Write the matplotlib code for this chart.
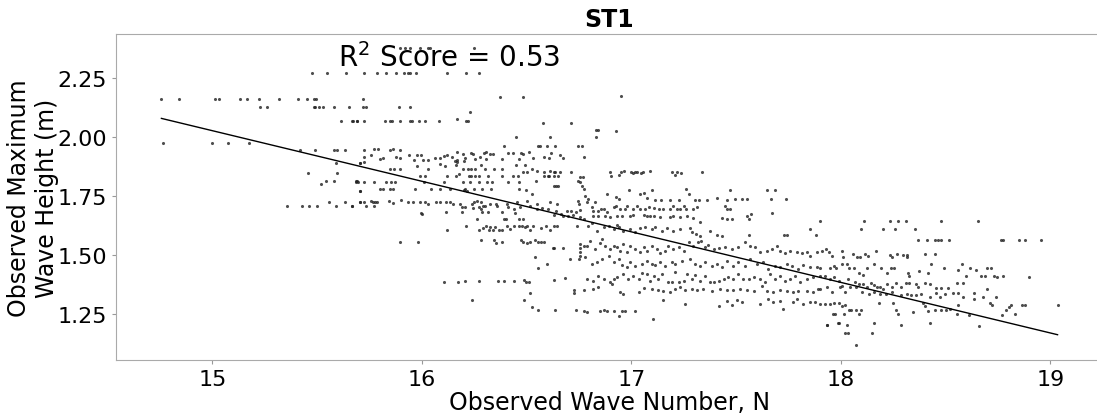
import numpy as np
import matplotlib.pyplot as plt

# (observed wave number N, observed max wave height Hmax) pairs, grouped by area of the plot
pts_west = [
    (15.477, 2.273), (15.549, 2.273), (15.639, 2.273),
    (14.757, 2.160), (14.841, 2.160), (15.013, 2.160), (15.030, 2.160), (15.132, 2.160), (15.167, 2.160),
    (15.224, 2.160), (15.318, 2.160), (15.411, 2.160), (15.451, 2.160), (15.486, 2.160), (15.495, 2.160),
    (15.228, 2.128), (15.259, 2.128), (15.483, 2.128), (15.491, 2.128), (15.510, 2.128), (15.526, 2.128),
    (15.582, 2.128), (15.650, 2.128),
    (15.615, 2.066), (15.669, 2.066), (15.690, 2.066),
    (14.765, 1.973), (14.997, 1.973), (15.075, 1.973), (15.175, 1.973),
    (15.420, 1.946), (15.490, 1.946), (15.582, 1.946), (15.595, 1.946), (15.631, 1.946),
    (15.588, 1.888), (15.706, 1.888), (15.455, 1.847), (15.595, 1.847),
    (15.541, 1.812), (15.579, 1.812), (15.684, 1.812), (15.692, 1.812), (15.521, 1.799), (15.705, 1.770),
    (15.558, 1.722), (15.631, 1.722), (15.703, 1.722),
    (15.356, 1.708), (15.426, 1.708), (15.459, 1.708), (15.498, 1.708), (15.588, 1.708), (15.667, 1.708),
]

pts_upper = [
    (15.894, 2.378), (15.921, 2.378), (15.942, 2.378), (15.992, 2.378), (16.029, 2.378), (16.040, 2.378), (16.250, 2.378),
    (15.725, 2.273), (15.786, 2.273), (15.830, 2.273), (15.878, 2.273), (15.916, 2.273), (15.932, 2.273),
    (15.942, 2.273), (15.972, 2.273), (16.120, 2.273), (16.212, 2.273), (16.272, 2.273),
    (16.372, 2.169), (16.484, 2.169), (16.951, 2.174), (15.717, 2.160),
    (15.717, 2.128), (15.733, 2.128), (15.892, 2.128), (15.945, 2.128),
    (16.228, 2.104), (16.170, 2.076),
    (15.666, 2.066), (15.690, 2.066), (15.725, 2.066), (15.825, 2.066), (15.846, 2.066), (15.857, 2.066),
    (15.894, 2.066), (15.945, 2.066), (15.953, 2.066), (15.984, 2.066), (16.016, 2.066), (16.083, 2.066),
    (16.212, 2.066), (16.218, 2.066), (16.576, 2.058), (16.710, 2.058),
    (16.831, 2.029), (16.843, 2.029), (16.831, 1.998), (16.449, 1.998), (16.613, 1.998),
    (16.390, 1.963), (16.554, 1.963), (16.565, 1.963), (16.597, 1.963), (16.637, 1.963), (16.745, 1.963), (16.764, 1.963),
    (15.722, 1.946), (15.770, 1.949), (15.792, 1.949), (15.846, 1.946), (15.862, 1.949), (15.897, 1.946),
    (16.170, 1.935), (16.194, 1.928), (16.234, 1.932), (16.242, 1.928), (16.298, 1.932), (16.307, 1.935),
    (16.323, 1.928), (16.339, 1.928), (16.409, 1.932), (16.434, 1.932), (16.473, 1.932), (16.485, 1.926),
    (16.511, 1.935), (16.617, 1.932), (16.657, 1.923),
    (15.725, 1.913), (15.759, 1.923), (15.802, 1.906), (15.813, 1.909), (15.878, 1.913), (15.897, 1.909),
    (15.940, 1.923), (15.976, 1.923), (15.996, 1.923), (15.961, 1.903), (16.005, 1.903), (16.027, 1.903),
    (16.064, 1.909), (16.088, 1.909), (16.104, 1.920), (16.120, 1.923), (16.144, 1.915), (16.159, 1.899),
    (16.167, 1.903), (16.199, 1.899), (16.207, 1.909), (16.255, 1.906), (16.279, 1.913), (16.304, 1.906),
    (16.382, 1.906), (16.462, 1.906), (16.530, 1.912), (16.581, 1.913), (16.609, 1.912), (16.676, 1.912), (16.772, 1.913),
    (15.703, 1.888), (15.725, 1.892), (15.849, 1.864), (15.867, 1.864), (15.897, 1.864), (15.976, 1.875),
    (16.027, 1.864), (16.088, 1.885), (16.112, 1.875), (16.164, 1.881), (16.167, 1.892), (16.194, 1.864),
    (16.218, 1.864), (16.234, 1.864), (16.255, 1.864), (16.282, 1.881), (16.302, 1.864), (16.345, 1.864),
    (16.382, 1.864), (16.449, 1.881), (16.493, 1.881), (16.525, 1.864), (16.549, 1.857), (16.581, 1.852),
    (16.613, 1.857), (16.629, 1.852), (16.636, 1.850), (16.660, 1.852), (16.713, 1.850),
    (15.989, 1.835), (16.016, 1.835), (16.120, 1.835), (16.161, 1.835), (16.175, 1.843), (16.223, 1.835),
    (16.234, 1.835), (16.255, 1.835), (16.271, 1.835), (16.318, 1.835), (16.384, 1.835), (16.434, 1.835),
    (16.460, 1.835), (16.485, 1.850), (16.501, 1.852), (16.584, 1.835), (16.600, 1.835), (16.609, 1.835),
    (16.629, 1.835), (16.652, 1.835),
]

pts_mid = [
    (15.687, 1.810), (15.697, 1.810), (15.722, 1.810), (15.770, 1.810), (15.830, 1.810), (15.852, 1.810),
    (15.870, 1.810), (16.010, 1.810), (16.104, 1.810), (16.196, 1.810), (16.228, 1.810), (16.271, 1.810),
    (16.309, 1.810), (16.337, 1.810), (16.411, 1.807), (16.462, 1.810), (16.544, 1.813), (16.743, 1.813),
    (15.706, 1.770), (15.798, 1.779), (15.814, 1.779), (15.849, 1.779), (15.860, 1.779), (15.968, 1.779),
    (16.043, 1.779), (16.085, 1.779), (16.136, 1.779), (16.199, 1.776), (16.207, 1.779), (16.215, 1.772),
    (16.247, 1.779), (16.285, 1.779), (16.330, 1.779), (16.462, 1.779), (16.497, 1.773), (16.528, 1.756),
    (16.632, 1.790), (16.641, 1.793), (16.652, 1.793),
    (15.668, 1.708), (15.706, 1.722), (15.722, 1.722), (15.732, 1.708), (15.757, 1.728), (15.767, 1.722),
    (15.773, 1.708), (15.778, 1.722), (15.786, 1.722), (15.841, 1.728), (15.864, 1.719), (15.900, 1.731),
    (15.932, 1.722), (15.959, 1.722), (15.991, 1.722), (16.015, 1.722), (16.027, 1.717), (16.067, 1.722),
    (16.085, 1.722), (16.115, 1.725), (16.132, 1.722), (16.151, 1.717), (16.182, 1.714), (16.239, 1.717),
    (16.250, 1.722), (16.263, 1.728), (16.282, 1.722), (16.323, 1.717), (16.353, 1.717), (16.406, 1.717),
    (16.454, 1.722), (16.501, 1.728), (16.551, 1.717), (16.613, 1.722), (16.644, 1.717), (16.745, 1.728),
    (16.749, 1.717),
    (15.996, 1.677), (16.002, 1.671), (16.115, 1.680), (16.190, 1.701), (16.193, 1.683), (16.207, 1.701),
    (16.244, 1.697), (16.271, 1.701), (16.282, 1.694), (16.291, 1.705), (16.287, 1.680), (16.301, 1.708),
    (16.314, 1.683), (16.358, 1.705), (16.382, 1.683), (16.412, 1.703), (16.438, 1.694), (16.444, 1.678),
    (16.469, 1.703), (16.517, 1.705), (16.549, 1.694), (16.574, 1.697), (16.600, 1.694), (16.632, 1.669),
    (16.641, 1.686), (16.663, 1.674), (16.676, 1.663), (16.692, 1.686), (16.698, 1.666), (16.711, 1.686),
    (16.721, 1.669), (16.737, 1.680), (16.756, 1.688),
    (16.120, 1.603), (16.212, 1.623), (16.263, 1.651), (16.271, 1.603), (16.293, 1.615), (16.306, 1.620),
    (16.320, 1.603), (16.326, 1.617), (16.339, 1.603), (16.350, 1.617), (16.366, 1.603), (16.382, 1.603),
    (16.393, 1.651), (16.403, 1.651), (16.406, 1.620), (16.419, 1.609), (16.438, 1.620), (16.462, 1.651),
    (16.466, 1.623), (16.477, 1.620), (16.485, 1.651), (16.493, 1.617), (16.504, 1.620), (16.517, 1.603),
    (16.530, 1.623), (16.568, 1.615), (16.594, 1.620), (16.613, 1.603), (16.629, 1.623), (16.644, 1.623),
    (16.740, 1.623),
    (15.894, 1.552), (15.980, 1.552), (16.283, 1.561), (16.345, 1.561), (16.355, 1.550), (16.382, 1.552),
    (16.473, 1.561), (16.485, 1.552), (16.501, 1.550), (16.517, 1.552), (16.541, 1.561), (16.552, 1.555),
    (16.568, 1.552), (16.584, 1.552), (16.624, 1.527), (16.632, 1.527), (16.676, 1.527), (16.756, 1.527),
    (16.756, 1.510), (16.541, 1.490),
    (16.708, 1.482), (16.748, 1.482), (16.597, 1.462), (16.554, 1.445),
    (16.684, 1.402), (16.633, 1.394),
    (16.104, 1.385), (16.171, 1.385), (16.205, 1.390), (16.271, 1.390), (16.363, 1.390), (16.390, 1.390),
    (16.438, 1.390), (16.489, 1.394), (16.498, 1.385), (16.509, 1.385), (16.727, 1.351), (16.727, 1.337),
    (16.517, 1.337),
    (16.489, 1.309), (16.237, 1.309), (16.528, 1.278), (16.552, 1.264), (16.636, 1.264), (16.735, 1.264),
]

pts_centre = [
    (16.927, 2.025),
    (16.896, 1.852), (16.902, 1.833), (16.939, 1.838), (16.950, 1.852), (16.966, 1.855), (16.997, 1.852),
    (17.007, 1.847), (17.018, 1.852), (17.029, 1.850), (17.045, 1.847), (17.055, 1.852), (17.090, 1.857),
    (17.193, 1.850), (17.209, 1.838), (17.220, 1.850), (17.236, 1.847), (17.336, 1.852),
    (16.756, 1.829), (16.768, 1.829), (16.756, 1.807), (16.764, 1.790), (16.772, 1.779), (16.780, 1.751),
    (16.795, 1.737), (16.788, 1.722), (16.827, 1.722),
    (16.991, 1.773), (17.098, 1.773), (17.261, 1.779), (17.273, 1.758), (17.471, 1.773), (17.646, 1.773), (17.686, 1.773),
    (16.886, 1.758), (16.927, 1.744), (16.943, 1.737), (17.042, 1.758), (17.058, 1.762), (17.074, 1.740),
    (17.113, 1.734), (17.141, 1.734), (17.185, 1.734), (17.225, 1.734), (17.304, 1.734), (17.325, 1.734),
    (17.360, 1.734), (17.411, 1.740), (17.455, 1.734), (17.495, 1.737), (17.527, 1.737), (17.554, 1.737),
    (17.665, 1.737), (17.739, 1.737), (17.670, 1.677),
    (16.811, 1.701), (16.819, 1.687), (16.843, 1.687), (16.854, 1.694), (16.870, 1.694), (16.883, 1.680),
    (16.915, 1.701), (16.927, 1.708), (16.947, 1.694), (16.970, 1.694), (16.978, 1.708), (17.010, 1.694),
    (17.026, 1.708), (17.042, 1.694), (17.067, 1.694), (17.082, 1.701), (17.109, 1.697), (17.134, 1.694),
    (17.153, 1.694), (17.185, 1.694), (17.201, 1.705), (17.220, 1.694), (17.233, 1.694), (17.249, 1.705),
    (17.261, 1.694), (17.296, 1.694), (17.312, 1.701), (17.447, 1.705), (17.455, 1.694), (17.471, 1.694),
    (16.816, 1.666), (16.843, 1.663), (16.875, 1.666), (16.899, 1.659), (16.931, 1.666), (16.954, 1.663),
    (16.994, 1.663), (17.010, 1.669), (17.058, 1.669), (17.074, 1.663), (17.090, 1.666), (17.106, 1.666),
    (17.137, 1.659), (17.185, 1.659), (17.201, 1.663), (17.233, 1.659), (17.265, 1.666), (17.296, 1.654),
    (17.328, 1.637), (17.432, 1.654), (17.455, 1.651), (17.479, 1.651), (17.551, 1.663), (17.570, 1.673),
    (17.559, 1.651), (17.901, 1.643),
    (16.756, 1.659), (16.772, 1.651), (16.795, 1.623), (16.811, 1.635), (16.835, 1.602), (16.867, 1.616),
    (16.891, 1.623), (16.915, 1.609), (16.931, 1.626), (16.943, 1.616), (16.962, 1.602), (16.994, 1.609),
    (17.018, 1.595), (17.042, 1.612), (17.066, 1.616), (17.098, 1.609), (17.113, 1.616), (17.145, 1.602),
    (17.169, 1.612), (17.201, 1.602), (17.230, 1.609), (17.281, 1.612), (17.288, 1.595), (17.309, 1.588),
    (17.328, 1.581), (17.376, 1.602), (17.408, 1.584), (17.432, 1.578), (17.559, 1.584), (17.729, 1.584),
    (17.742, 1.584), (17.853, 1.609), (17.882, 1.584),
    (16.756, 1.545), (16.772, 1.538), (16.788, 1.538), (16.803, 1.559), (16.827, 1.524), (16.851, 1.550),
    (16.859, 1.567), (16.875, 1.538), (16.899, 1.524), (16.915, 1.538), (16.931, 1.531), (16.947, 1.517),
    (16.962, 1.545), (16.978, 1.513), (16.994, 1.538), (17.018, 1.524), (17.042, 1.510), (17.058, 1.531),
    (17.074, 1.517), (17.098, 1.538), (17.121, 1.524), (17.137, 1.507), (17.161, 1.517), (17.177, 1.538),
    (17.201, 1.524), (17.225, 1.531), (17.249, 1.517), (17.273, 1.552), (17.296, 1.538), (17.320, 1.552),
    (17.331, 1.559), (17.352, 1.531), (17.368, 1.541), (17.392, 1.524), (17.416, 1.527), (17.447, 1.531),
    (17.479, 1.524), (17.511, 1.531), (17.543, 1.552), (17.567, 1.538), (17.591, 1.531), (17.614, 1.510),
    (17.646, 1.517), (17.670, 1.524), (17.694, 1.538), (17.710, 1.517), (17.734, 1.507), (17.758, 1.517),
    (17.789, 1.510), (17.813, 1.507), (17.837, 1.510), (17.853, 1.496), (17.888, 1.510),
    (16.756, 1.496), (16.780, 1.489), (16.811, 1.460), (16.835, 1.467), (16.859, 1.482), (16.891, 1.496),
    (16.915, 1.467), (16.939, 1.482), (16.954, 1.456), (16.978, 1.446), (16.994, 1.467), (17.018, 1.453),
    (17.050, 1.460), (17.074, 1.475), (17.098, 1.460), (17.114, 1.456), (17.137, 1.467), (17.161, 1.453),
    (17.193, 1.467), (17.209, 1.460), (17.241, 1.475), (17.280, 1.482), (17.304, 1.460), (17.328, 1.453),
    (17.352, 1.467), (17.384, 1.453), (17.408, 1.460), (17.432, 1.446), (17.455, 1.475), (17.487, 1.453),
    (17.511, 1.467), (17.543, 1.453), (17.567, 1.482), (17.599, 1.460), (17.630, 1.467), (17.654, 1.439),
    (17.686, 1.453), (17.710, 1.446), (17.742, 1.460), (17.766, 1.453), (17.797, 1.439), (17.821, 1.456),
    (17.853, 1.446), (17.885, 1.446),
    (16.788, 1.397), (16.819, 1.390), (16.843, 1.411), (16.867, 1.397), (16.899, 1.385), (16.915, 1.397),
    (16.931, 1.404), (16.962, 1.418), (16.986, 1.397), (17.010, 1.411), (17.034, 1.397), (17.050, 1.422),
    (17.074, 1.418), (17.090, 1.390), (17.106, 1.411), (17.129, 1.397), (17.145, 1.418), (17.177, 1.385),
    (17.193, 1.383), (17.209, 1.425), (17.225, 1.385), (17.249, 1.390), (17.265, 1.418), (17.288, 1.397),
    (17.304, 1.414), (17.328, 1.390), (17.352, 1.411), (17.376, 1.385), (17.392, 1.383), (17.416, 1.390),
    (17.440, 1.397), (17.463, 1.404), (17.487, 1.397), (17.511, 1.418), (17.535, 1.397), (17.559, 1.397),
    (17.583, 1.404), (17.614, 1.397), (17.638, 1.383), (17.662, 1.418), (17.686, 1.397), (17.710, 1.411),
    (17.734, 1.390), (17.758, 1.397), (17.781, 1.411), (17.805, 1.385), (17.837, 1.397), (17.869, 1.404),
    (16.772, 1.351), (16.819, 1.354), (16.843, 1.361), (16.907, 1.375), (16.946, 1.343), (16.962, 1.333),
    (17.034, 1.340), (17.058, 1.357), (17.098, 1.354), (17.129, 1.351), (17.153, 1.347), (17.185, 1.340),
    (17.209, 1.354), (17.233, 1.361), (17.257, 1.351), (17.288, 1.354), (17.312, 1.351), (17.344, 1.354),
    (17.384, 1.347), (17.424, 1.354), (17.455, 1.351), (17.487, 1.351), (17.519, 1.354), (17.551, 1.351),
    (17.583, 1.347), (17.622, 1.368), (17.646, 1.347), (17.678, 1.343), (17.710, 1.351), (17.742, 1.347),
    (17.773, 1.340), (17.797, 1.347), (17.837, 1.347), (17.869, 1.340), (17.893, 1.354),
    (17.153, 1.309), (17.257, 1.291), (17.416, 1.281), (17.455, 1.305), (17.479, 1.286), (17.503, 1.309),
    (17.527, 1.298), (17.614, 1.291), (17.654, 1.312), (17.678, 1.298), (17.710, 1.305), (17.726, 1.269),
    (17.773, 1.298), (17.789, 1.312), (17.821, 1.291), (17.853, 1.298), (17.877, 1.298),
    (16.772, 1.262), (16.788, 1.258), (16.851, 1.261), (16.867, 1.266), (16.883, 1.261), (16.915, 1.261),
    (16.939, 1.241), (16.954, 1.261), (16.970, 1.261), (17.018, 1.261), (17.102, 1.227),
]

pts_east = [
    (18.110, 1.643), (18.235, 1.643), (18.274, 1.643), (18.312, 1.643), (18.476, 1.643), (18.656, 1.643),
    (18.097, 1.609), (18.203, 1.609), (18.258, 1.609), (18.354, 1.609),
    (18.367, 1.564), (18.412, 1.564), (18.447, 1.564), (18.463, 1.564), (18.479, 1.564), (18.515, 1.564),
    (18.765, 1.564), (18.772, 1.564), (18.849, 1.564), (18.878, 1.564), (18.955, 1.564),
    (17.909, 1.517), (17.930, 1.524), (17.941, 1.513), (17.957, 1.496), (18.005, 1.517), (18.010, 1.489),
    (18.058, 1.503), (18.078, 1.489), (18.091, 1.489), (18.113, 1.503), (18.129, 1.496), (18.166, 1.517),
    (18.235, 1.499), (18.246, 1.489), (18.267, 1.503), (18.295, 1.499), (18.315, 1.499), (18.315, 1.489),
    (18.399, 1.503), (18.447, 1.503),
    (17.901, 1.442), (17.949, 1.442), (17.965, 1.450), (17.978, 1.442), (18.005, 1.460), (18.030, 1.460),
    (18.038, 1.442), (18.062, 1.442), (18.086, 1.422), (18.107, 1.414), (18.123, 1.442), (18.158, 1.460),
    (18.193, 1.442), (18.222, 1.422), (18.238, 1.442), (18.254, 1.442), (18.322, 1.422), (18.327, 1.411),
    (18.375, 1.432), (18.418, 1.422), (18.431, 1.460), (18.492, 1.442), (18.560, 1.436), (18.576, 1.460),
    (18.595, 1.411), (18.616, 1.442), (18.643, 1.436), (18.669, 1.411), (18.688, 1.411), (18.696, 1.442),
    (18.717, 1.442), (18.733, 1.411), (18.744, 1.404), (18.776, 1.411), (18.900, 1.405),
    (17.901, 1.411), (17.925, 1.408), (17.946, 1.397), (17.968, 1.404), (17.989, 1.390), (18.005, 1.368),
    (18.033, 1.397), (18.042, 1.361), (18.065, 1.383), (18.086, 1.375), (18.107, 1.375), (18.126, 1.361),
    (18.142, 1.380), (18.158, 1.371), (18.174, 1.361), (18.187, 1.365), (18.203, 1.354), (18.222, 1.375),
    (18.242, 1.361), (18.262, 1.380), (18.287, 1.361), (18.311, 1.380), (18.327, 1.380), (18.359, 1.375),
    (18.367, 1.361), (18.399, 1.380), (18.423, 1.375), (18.455, 1.357), (18.479, 1.357), (18.511, 1.357),
    (18.552, 1.380), (18.584, 1.380),
    (17.901, 1.354), (17.933, 1.361), (17.957, 1.340), (17.997, 1.361), (18.021, 1.340), (18.074, 1.361),
    (18.102, 1.340), (18.134, 1.333), (18.158, 1.340), (18.187, 1.333), (18.214, 1.333), (18.246, 1.340),
    (18.287, 1.329), (18.315, 1.333), (18.335, 1.329), (18.359, 1.329), (18.383, 1.333), (18.423, 1.319),
    (18.455, 1.337), (18.471, 1.319), (18.499, 1.333), (18.536, 1.337), (18.560, 1.337), (18.584, 1.319),
    (18.637, 1.337), (18.637, 1.312), (18.680, 1.319), (18.696, 1.354), (18.740, 1.319),
    (17.901, 1.291), (17.925, 1.291), (17.946, 1.291), (17.965, 1.295), (17.989, 1.295), (18.005, 1.283),
    (18.021, 1.286), (18.046, 1.266), (18.070, 1.266), (18.094, 1.266), (18.086, 1.248), (18.038, 1.266),
    (18.182, 1.295), (18.251, 1.295), (18.262, 1.266), (18.274, 1.248), (18.343, 1.255), (18.391, 1.295),
    (18.402, 1.283), (18.415, 1.262), (18.447, 1.266), (18.476, 1.266), (18.503, 1.266), (18.519, 1.269),
    (18.552, 1.248), (18.560, 1.286), (18.611, 1.244), (18.712, 1.295), (18.720, 1.286), (18.768, 1.244),
    (18.788, 1.266), (18.801, 1.276), (18.813, 1.286), (18.833, 1.248), (18.862, 1.286), (18.878, 1.286),
    (19.034, 1.286),
    (17.933, 1.201), (17.973, 1.248), (17.989, 1.210), (18.013, 1.248), (18.030, 1.201), (18.021, 1.167),
    (18.033, 1.167), (18.074, 1.118), (18.150, 1.167), (18.158, 1.210), (18.287, 1.201), (18.423, 1.210),
    (18.659, 1.196), (17.964, 1.248), (17.936, 1.201), (17.988, 1.210),
]

# least-squares fit of Hmax on N
fit_slope = -0.2147
fit_intercept = 5.247
r2_score = 0.53

pts = np.array(pts_west + pts_upper + pts_mid + pts_centre + pts_east)
n_obs, h_obs = pts[:, 0], pts[:, 1]

fig = plt.figure(figsize=(10.97, 4.14), dpi=100)
ax = fig.add_axes([0.1057, 0.128, 0.8996, 0.7875])

ax.scatter(n_obs, h_obs, s=5, c='#222222', alpha=0.8, linewidths=0)
n_line = np.array([n_obs.min(), n_obs.max()])
ax.plot(n_line, fit_slope * n_line + fit_intercept, color='black', lw=1)

ax.text(15.6, 2.3, f"R$^2$ Score = {r2_score:.2f}", fontsize=20)
ax.set_title("ST1", fontsize=17, fontweight='bold')
ax.set_xlabel("Observed Wave Number, N", fontsize=17, labelpad=1)
ax.set_ylabel("Observed Maximum\nWave Height (m)", fontsize=17, labelpad=-1)

ax.set_xlim(14.54, 19.25)
ax.set_ylim(1.053, 2.437)
ax.set_xticks([15, 16, 17, 18, 19])
ax.set_yticks([1.25, 1.50, 1.75, 2.00, 2.25])
ax.tick_params(labelsize=16, length=3, color='#999999')
for sp in ax.spines.values():
    sp.set_color('#aaaaaa')

fig.savefig('out.png', dpi=100)
